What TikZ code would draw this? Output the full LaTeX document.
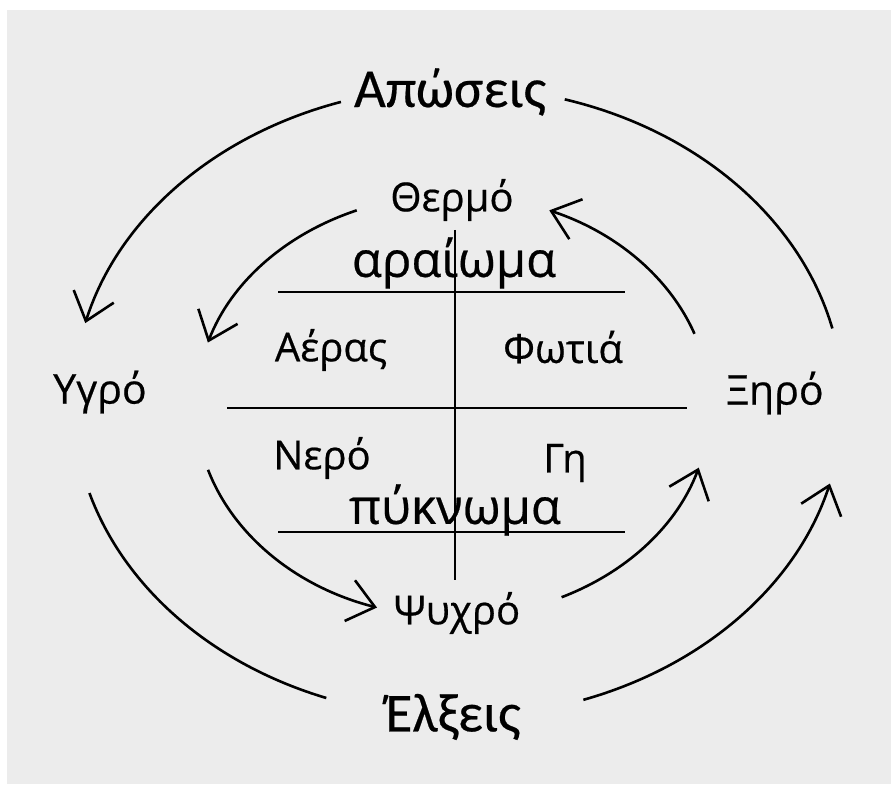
\documentclass[tikz,border=0pt]{standalone}
\usepackage{fontspec}
\setmainfont{Open Sans}[FakeBold=0.5,AutoFakeBold=0.5]
\newfontfamily\condfont{Carlito}[FakeBold=0.4]
\usepackage{tikz}
\usetikzlibrary{arrows.meta}
\definecolor{paper}{RGB}{236,236,236}

\begin{document}
\begin{tikzpicture}[x=1pt,y=1pt,
	lbl/.style={inner sep=0pt, font=\bfseries\fontsize{40}{44}\selectfont},
	side/.style={inner sep=0pt, font=\bfseries\fontsize{41}{46}\selectfont},
	big/.style={inner sep=0pt, font=\bfseries\fontsize{49}{54}\selectfont},
	force/.style={inner sep=0pt, font=\condfont\fontsize{55}{60}\selectfont},
	rule/.style={line width=2.6pt},
	curve/.style={line width=2.6pt},
	flow/.style={curve, -{Straight Barb[length=26pt,width=42pt]}}]

% paper
\fill[white] (0,0) rectangle (891,784);
\fill[paper] (7,0) rectangle (891,774);

% ellipses: outer (forces) and inner (qualities)
\def\ocx{458} \def\ocy{382} \def\oa{385} \def\ob{315}
\def\icx{453} \def\icy{378} \def\ia{257} \def\ib{211}

%Place labels:
\node[force] (apo) at (450,692) {Απώσεις};
\node[force] (elx) at (453,67) {Έλξεις};
\node[side] (ygro) at (100,392) {Υγρό};
\node[side] (xiro) at (775,391) {Ξηρό};
\node[lbl] (thermo) at (452,584) {Θερμό};
\node[lbl] (psyxro) at (457,171) {Ψυχρό};
\node[big] (araio) at (454,521) {αραίωμα};
\node[big] (pykno) at (455,274) {πύκνωμα};
\node[lbl] (aeras) at (331,434) {Αέρας};
\node[lbl] (fotia) at (563,437) {Φωτιά};
\node[lbl] (nero) at (322,326) {Νερό};
\node[lbl] (gi) at (565,321) {Γη};

% cross of the four elements
\coordinate (h1w) at (278,492); \coordinate (h1e) at (625,492);
\coordinate (h2w) at (227,376); \coordinate (h2e) at (687,376);
\coordinate (h3w) at (278,252); \coordinate (h3e) at (625,252);
\coordinate (vn) at (455,554); \coordinate (vs) at (455,204);
\draw[rule] (h1w) -- (h1e);
\draw[rule] (h2w) -- (h2e);
\draw[rule] (h3w) -- (h3e);
\draw[rule] (vn) -- (vs);

% outer arcs
\coordinate (o1) at ({\ocx+\oa*cos(107.7)},{\ocy+\ob*sin(107.7)}); % from Απώσεις
\coordinate (o2) at ({\ocx+\oa*cos(73.9)},{\ocy+\ob*sin(73.9)});
\coordinate (o3) at ({\ocx+\oa*cos(-71)},{\ocy+\ob*sin(-71)}); % from Έλξεις
\coordinate (o4) at ({\ocx+\oa*cos(250)},{\ocy+\ob*sin(250)});
\draw[flow] (o1) arc[start angle=107.7,end angle=165.5,x radius=\oa,y radius=\ob];
\draw[curve] (o2) arc[start angle=73.9,end angle=13.5,x radius=\oa,y radius=\ob];
\draw[flow] (o3) arc[start angle=-71,end angle=-15,x radius=\oa,y radius=\ob];
\draw[curve] (o4) arc[start angle=250,end angle=196.8,x radius=\oa,y radius=\ob];

% inner arcs
\coordinate (i1) at ({\icx+\ia*cos(112)},{\icy+\ib*sin(112)}); % from Θερμό
\coordinate (i2) at ({\icx+\ia*cos(20)},{\icy+\ib*sin(20)});
\coordinate (i3) at ({\icx+\ia*cos(197.6)},{\icy+\ib*sin(197.6)});
\coordinate (i4) at ({\icx+\ia*cos(-65)},{\icy+\ib*sin(-65)}); % from Ψυχρό
\draw[flow] (i1) arc[start angle=112,end angle=162.5,x radius=\ia,y radius=\ib];
\draw[flow] (i2) arc[start angle=20,end angle=68,x radius=\ia,y radius=\ib];
\draw[flow] (i3) arc[start angle=197.6,end angle=252.8,x radius=\ia,y radius=\ib];
\draw[flow] (i4) arc[start angle=-65,end angle=-17,x radius=\ia,y radius=\ib];

\end{tikzpicture}
\end{document}
